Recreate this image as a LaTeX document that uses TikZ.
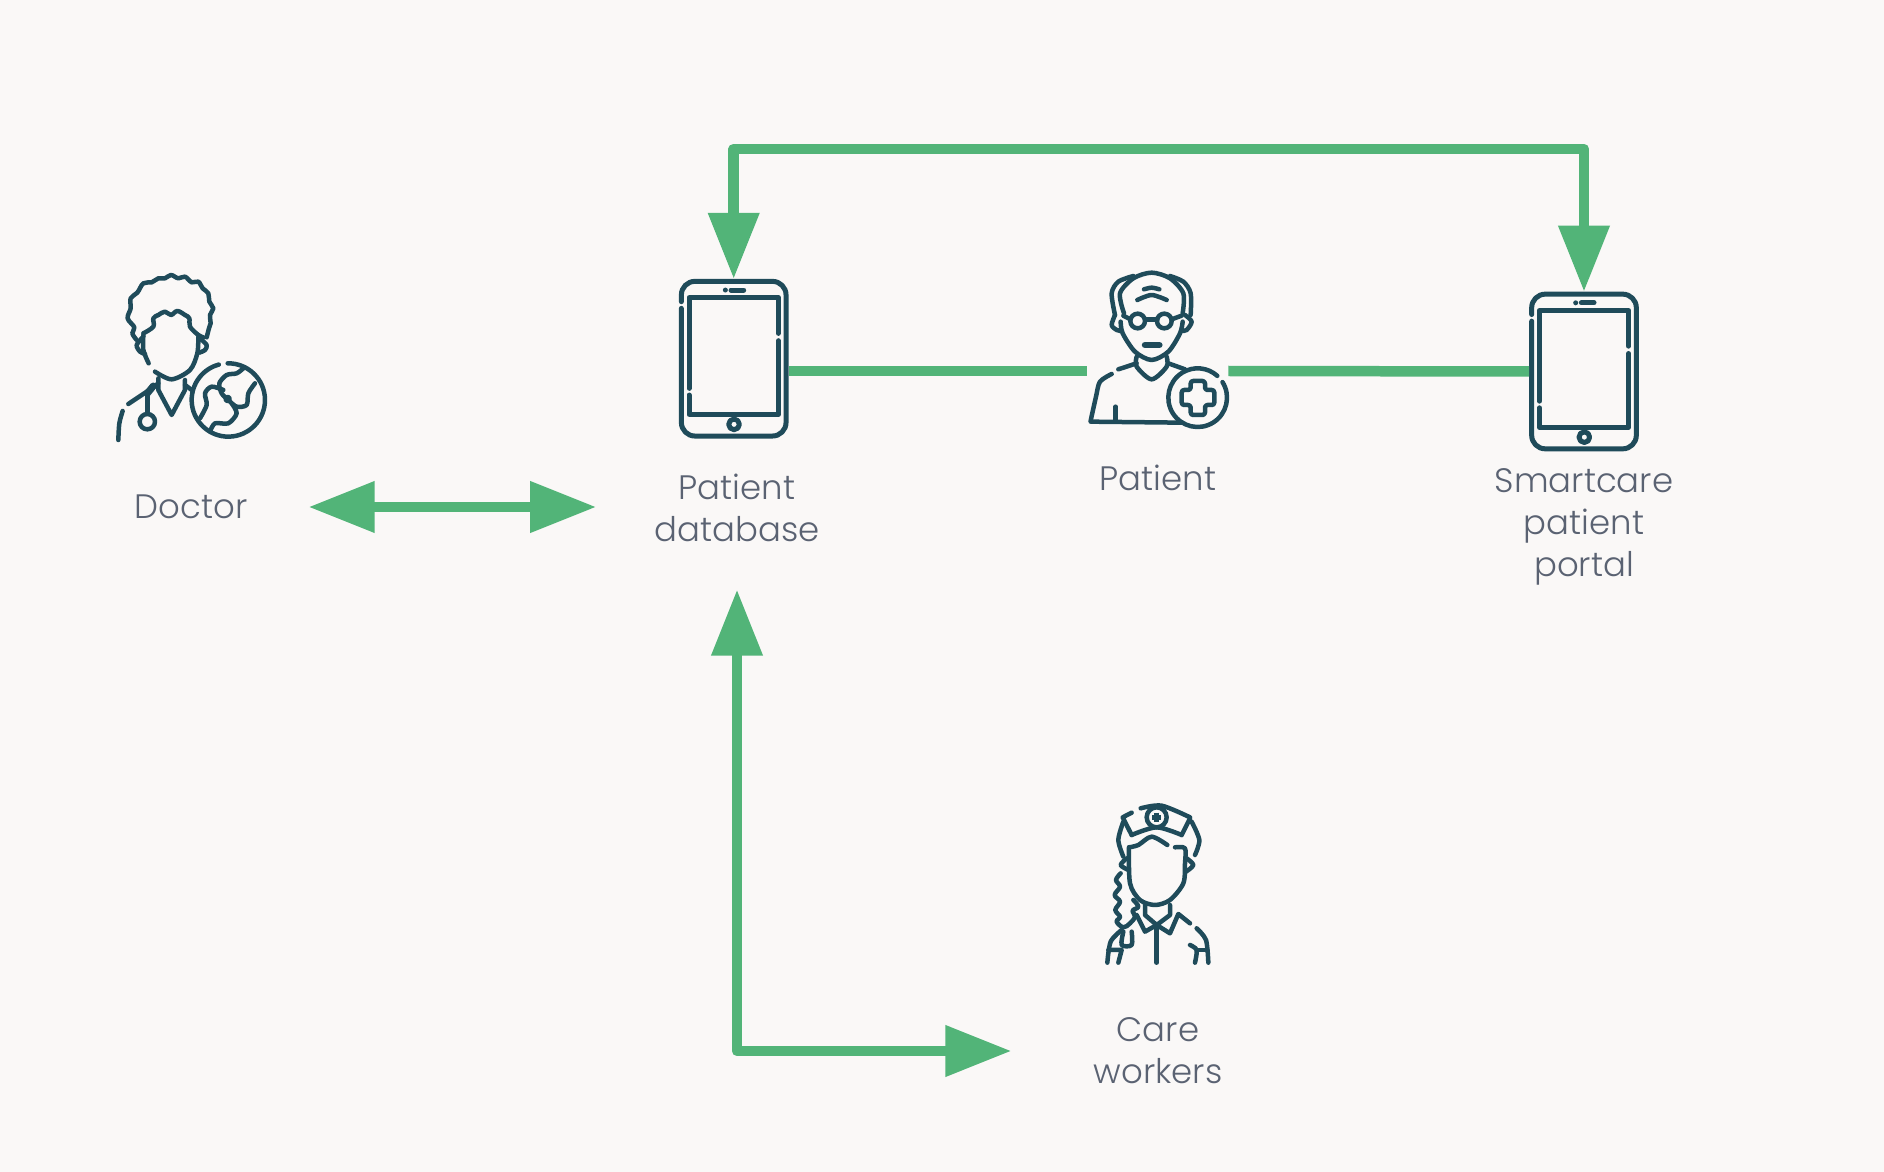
\documentclass[tikz,border=0pt]{standalone}
\usepackage{fontspec}
\setmainfont{Poppins Light}
\usetikzlibrary{arrows.meta}
\definecolor{paper}{HTML}{FAF8F7}
\definecolor{flow}{HTML}{52B478}
\definecolor{ink}{HTML}{1F4B5A}
\definecolor{caption}{HTML}{5A6272}
\tikzset{
  label/.style={align=center,text=caption,inner sep=0pt,font=\fontsize{19.3}{23.8}\selectfont},
  iconbox/.style={inner sep=0pt,minimum width=#1},
  flowline/.style={draw=flow,line width=0.21cm,line join=round},
  flowarrow/.style={flowline,{Triangle[length=1.32cm,width=0.98cm]}-{Triangle[length=1.32cm,width=0.98cm]}},
  icon/.style={draw=ink,line width=0.09cm,line cap=round,line join=round},
  zoomed/.style={shift={#1},x=0.006667cm,y=-0.006667cm},
  pics/tablet/.style={code={
    \begin{scope}[x=0.006667cm,y=-0.006667cm,icon,line width=0.1cm]
      \draw[rounded corners=0.27cm] (-157,-171) -- (-157,-232) -- (157,-232) -- (157,232) -- (-157,232) -- (-157,-151);
      \draw (134,-76) -- (134,-183) -- (-134,-183) -- (-134,89);
      \draw (-134,109) -- (-134,167) -- (134,167) -- (134,-54);
      \draw (-8,-206) -- (30,-206);
      \draw (-25,-206) -- (-25,-206);
      \draw (1,197) circle[radius=16];
    \end{scope}
  }}
}
\begin{document}
\begin{tikzpicture}[x=0.02cm,y=-0.02cm]
  \fill[paper] (0,0) rectangle (1884,1172);
  \useasboundingbox (0,0) rectangle (1884,1172);

  % icons
  \node[iconbox=2.18cm,minimum height=3.18cm] (databaseicon) at (733.7,358.7) {};
  \node[iconbox=2.18cm,minimum height=3.18cm] (portalicon) at (1584,371.5) {};
  \node[iconbox=2.82cm,minimum height=2.6cm] (patienticon) at (1157.5,371) {};
  \pic at (databaseicon) {tablet};
  \pic at (portalicon) {tablet};

  % labels
  \node[label] (doctor) at (191,507) {Doctor};
  \node[label] (database) at (737,508) {Patient\\database};
  \node[label] (patient) at (1158,478) {Patient};
  \node[label] (portal) at (1584,527) {Smartcare\\patient\\portal};
  \node[label] (care) at (1158,1051) {Care\\workers};

  % connectors
  \coordinate (topbar) at (1150,149);
  \draw[flowarrow] (databaseicon.north) |- (topbar) -| (portalicon.north);
  \draw[flowline] (databaseicon.east |- patienticon.west) -- (patienticon.west);
  \draw[flowline] (patienticon.east) -- (portalicon.west);
  \draw[flowarrow,shorten <=1.22cm,shorten >=1.16cm] (doctor.east) -- (doctor.east -| database.west);
  \draw[flowarrow,shorten <=0.95cm,shorten >=1.64cm] (database.south) |- (care.west);

  % doctor
  \begin{scope}[zoomed={(90,250)},icon]
    \draw plot[smooth,tension=0.6] coordinates {(140,270) (127,250) (133,232) (113,205) (122,175) (122,145) (142,128) (160,100) (185,97) (205,85) (225,85) (243,75) (265,85) (285,80) (305,97) (325,95) (338,115) (355,130) (358,155) (370,175) (360,195) (362,220) (357,235) (350,262)};
    \draw plot[smooth,tension=0.6] coordinates {(160,250) (190,230) (190,205) (205,195) (225,185) (243,195) (262,183) (285,195) (298,205) (300,230) (325,255) (340,262)};
    \draw plot[smooth] coordinates {(160,260) (140,285) (150,305) (165,312)};
    \draw plot[smooth] coordinates {(330,265) (350,285) (345,300) (328,308)};
    \draw plot[smooth] coordinates {(160,255) (160,300) (176,340)};
    \draw plot[smooth] coordinates {(325,260) (322,310) (300,360) (245,388) (195,365)};
    \draw (205,385) -- (205,420) -- (245,495) -- (285,420) -- (285,390);
    \draw (115,462) -- (185,415) -- (205,400);
    \draw (285,405) -- (305,420);
    \draw[line width=0.14cm] (190,408) -- (172,430);
    \draw (172,430) -- (172,490);
    \draw (172,515) circle[radius=23];
    \draw plot[smooth] coordinates {(98,483) (88,520) (85,570)};
    \draw (415,450) ++(-91:110) arc[start angle=-91,end angle=255,radius=110];
    \draw plot[smooth] coordinates {(460,355) (440,370) (410,375) (388,400) (395,430) (415,450) (440,470) (470,465) (475,430) (495,400)};
    \draw plot[smooth] coordinates {(400,420) (365,410) (345,430) (350,465) (330,505)};
    \draw plot[smooth] coordinates {(360,545) (375,520) (415,520) (440,490) (425,460)};
    \draw (413,447) circle[radius=6];
  \end{scope}

  % patient
  \begin{scope}[zoomed={(1070,250)},icon]
    \draw plot[smooth] coordinates {(135,195) (125,130) (145,95) (190,78)};
    \draw plot[smooth] coordinates {(362,195) (362,130) (340,95) (300,78)};
    \draw plot[smooth] coordinates {(162,190) (150,130) (190,85) (245,68) (300,85) (340,130) (338,190)};
    \draw plot[smooth] coordinates {(152,215) (158,250) (195,305) (245,330) (295,305) (330,250) (338,215)};
    \draw plot[smooth] coordinates {(222,118) (245,113) (268,118)};
    \draw plot[smooth] coordinates {(202,150) (245,135) (290,150)};
    \draw (203,213) circle[radius=22];
    \draw (283,213) circle[radius=22];
    \draw (225,208) -- (262,208);
    \draw (160,197) -- (181,208);
    \draw (305,208) -- (335,197);
    \draw plot[smooth] coordinates {(135,195) (125,225) (140,240) (155,243)};
    \draw plot[smooth] coordinates {(345,195) (365,215) (350,240) (335,243)};
    \draw[line width=0.13cm] (225,285) -- (268,285);
    \draw plot[smooth] coordinates {(200,320) (200,350) (245,388) (290,350) (290,320)};
    \draw (145,358) -- (200,340);
    \draw plot[smooth] coordinates {(125,372) (90,395) (78,440) (62,512)};
    \draw (62,515) -- (335,518);
    \draw (295,340) -- (345,358);
    \draw (137,470) -- (137,515);
    \draw (383,443) ++(-32:88) arc[start angle=-32,end angle=312,radius=88];
    \draw[rounded corners=0.05cm] (362,393) -- (405,393) -- (405,420) -- (433,420) -- (433,465) -- (405,465) -- (405,495) -- (362,495) -- (362,465) -- (335,465) -- (335,420) -- (362,420) -- cycle;
  \end{scope}

  % care workers
  \begin{scope}[zoomed={(1080,790)},icon]
    \draw plot[smooth] coordinates {(182,55) (245,47) (330,82)};
    \draw (155,68) -- (128,82) -- (155,135);
    \draw plot[smooth] coordinates {(155,135) (230,112) (305,135)};
    \draw (305,135) -- (330,85);
    \draw (230,82) circle[radius=30];
    \draw[line width=0.1cm,line cap=butt] (216,82) -- (244,82);
    \draw[line width=0.1cm,line cap=butt] (230,68) -- (230,96);
    \draw plot[smooth] coordinates {(130,95) (115,150) (130,200)};
    \draw plot[smooth] coordinates {(335,95) (358,150) (345,195)};
    \draw plot[smooth] coordinates {(147,172) (175,165) (215,140) (262,165)};
    \draw plot[smooth] coordinates {(285,172) (315,175) (315,220) (310,280) (270,330) (225,345) (180,330) (150,280) (147,172)};
    \draw plot[smooth] coordinates {(140,205) (122,225) (145,240)};
    \draw plot[smooth] coordinates {(320,205) (340,225) (318,245)};
    \draw plot[smooth,tension=0.6] coordinates {(122,250) (108,270) (120,290) (104,315) (120,335) (106,360) (120,380) (110,395) (130,412) (150,400) (165,380) (158,362) (175,350) (160,330)};
    \draw (195,345) -- (195,375) -- (230,405) -- (270,375) -- (270,345);
    \draw (170,375) -- (195,425) -- (230,405) -- (270,430) -- (295,372) -- (330,400);
    \draw (230,410) -- (230,518);
    \draw plot[smooth] coordinates {(125,420) (92,455) (82,518)};
    \draw (85,480) -- (125,480) -- (115,518);
    \draw plot[smooth] coordinates {(130,425) (125,465) (155,465) (155,425)};
    \draw plot[smooth] coordinates {(350,415) (378,450) (385,518)};
    \draw plot[smooth] coordinates {(330,465) (350,480) (345,518)};
    \draw (350,480) -- (382,480);
  \end{scope}
\end{tikzpicture}
\end{document}
